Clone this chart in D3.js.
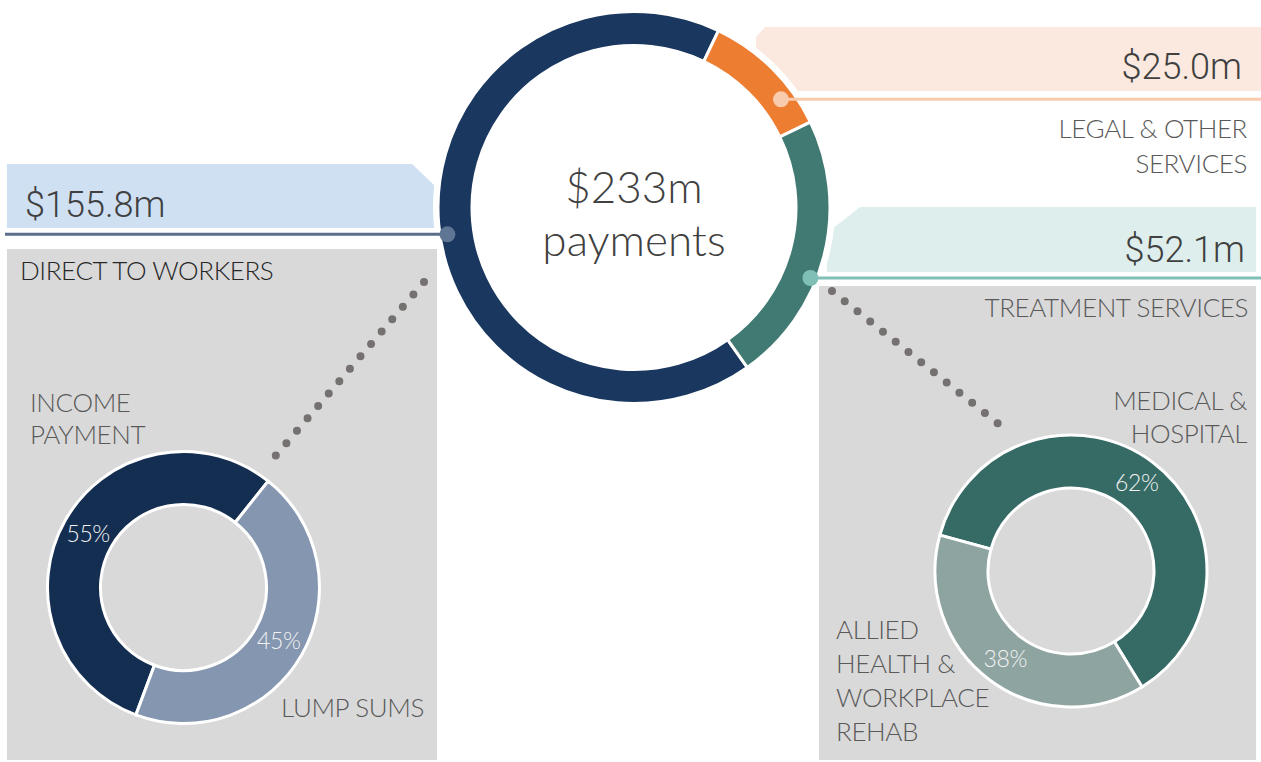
<!DOCTYPE html>
<html>
<head>
<meta charset="utf-8">
<script src="https://cdn.jsdelivr.net/npm/d3@7"></script>
<style>
  html, body { margin: 0; padding: 0; background: #fff; }
  svg { display: block; }
  .label { font-family: "Lato", "Open Sans", sans-serif; font-weight: 300; letter-spacing: -0.4px; }
  .value { font-family: "Roboto", sans-serif; font-weight: 300; }
</style>
</head>
<body>
<svg width="1261" height="762"></svg>
<script>
'use strict'

// ---- data ----
var mainCategories = ["DIRECT TO WORKERS", "LEGAL & OTHER SERVICES", "TREATMENT SERVICES"];
var mainValues = [155.8, 25.0, 52.1];
var mainValueLabels = ["$155.8m", "$25.0m", "$52.1m"];
var totalLabel = ["$233m", "payments"];

var workerCategories = ["INCOME PAYMENT", "LUMP SUMS"];
var workerShares = [55, 45];

var treatmentCategories = ["MEDICAL & HOSPITAL", "ALLIED HEALTH & WORKPLACE REHAB"];
var treatmentShares = [62, 38];

// ---- colours ----
var mainColours = ["#19375f", "#ed7d31", "#417a73"];
var boxColours = ["#cfe0f3", "#fbe9df", "#deeeed"];
var leaderColours = ["#5b6e8c", "#f8cbad", "#7fbfb6"];
var dotColours = ["#5f7594", "#f8cbad", "#7fbfb6"];
var workerColours = ["#142e52", "#8496b0"];
var treatmentColours = ["#366b65", "#8ea4a1"];

var deg = Math.PI / 180;
var svg = d3.select("svg");

var main = { cx: 634, cy: 207.5, r0: 162, r1: 196 };
var left = { cx: 183.5, cy: 587.5, r0: 83, r1: 136 };
var right = { cx: 1071, cy: 571, r0: 83, r1: 136 };

// grey panels
svg.append("rect").attr("x", 7).attr("y", 249).attr("width", 430).attr("height", 511).attr("fill", "#d9d9d9");
svg.append("rect").attr("x", 819).attr("y", 286).attr("width", 437).attr("height", 474).attr("fill", "#d9d9d9");

// value boxes with a clipped corner
var boxes = [
  [[7, 164], [412, 164], [434, 185], [434, 228], [7, 228]],
  [[765, 27], [1261, 27], [1261, 91], [756, 91], [756, 37]],
  [[860, 207], [1256, 207], [1256, 272], [827, 272], [827, 233]]
];
svg.selectAll("polygon.box")
  .data(boxes)
  .enter()
  .append("polygon")
  .attr("class", "box")
  .attr("points", function(d) { return d.join(" "); })
  .attr("fill", function(d, i) { return boxColours[i]; });

// dotted connectors to the small donuts
var connectors = [
  [[424, 282], [266, 467]],
  [[832, 291], [1010, 433]]
];
svg.selectAll("line.conn")
  .data(connectors)
  .enter()
  .append("line")
  .attr("class", "conn")
  .attr("x1", function(d) { return d[0][0]; })
  .attr("y1", function(d) { return d[0][1]; })
  .attr("x2", function(d) { return d[1][0]; })
  .attr("y2", function(d) { return d[1][1]; })
  .attr("stroke", "#767171")
  .attr("stroke-width", 8)
  .attr("stroke-linecap", "round")
  .attr("stroke-dasharray", "0 16.3");

// ---- main donut ----
var g = svg.append("g").attr("transform", "translate(" + main.cx + "," + main.cy + ")");
g.append("circle").attr("r", main.r1 + 5).attr("fill", "#fff");

var mainPie = d3.pie().sort(null)
  .startAngle(144.7 * deg)
  .endAngle(144.7 * deg + 2 * Math.PI);
var mainArc = d3.arc().innerRadius(main.r0).outerRadius(main.r1);

g.selectAll("path")
  .data(mainPie(mainValues))
  .enter()
  .append("path")
  .attr("d", mainArc)
  .attr("fill", function(d, i) { return mainColours[i]; })
  .attr("stroke", "#fff")
  .attr("stroke-width", 3);

g.append("text")
  .attr("class", "label")
  .attr("text-anchor", "middle")
  .attr("y", -5)
  .attr("font-size", 44)
  .style("letter-spacing", "0px")
  .attr("fill", "#404040")
  .text(totalLabel[0]);
g.append("text")
  .attr("class", "label")
  .attr("text-anchor", "middle")
  .attr("y", 48)
  .attr("font-size", 44)
  .style("letter-spacing", "0px")
  .attr("fill", "#404040")
  .text(totalLabel[1]);

// leader lines: y of each line, dot sits on the ring
var leaderY = [234.3, 99.3, 278];
var leaderSide = [-1, 1, 1];
var leaderEnd = [5, 1261, 1261];
var dotR = [188.5, 182.5, 190];
leaderY.forEach(function(y, i) {
  var dy = y - main.cy;
  var x = main.cx + leaderSide[i] * Math.sqrt(dotR[i] * dotR[i] - dy * dy);
  svg.append("line")
    .attr("x1", leaderEnd[i]).attr("x2", x)
    .attr("y1", y).attr("y2", y)
    .attr("stroke", leaderColours[i])
    .attr("stroke-width", 3);
  svg.append("circle")
    .attr("cx", x).attr("cy", y).attr("r", 8)
    .attr("fill", dotColours[i]);
});

// value labels
var valuePos = [[25, 217, "start"], [1242, 79, "end"], [1245, 262, "end"]];
mainValueLabels.forEach(function(t, i) {
  svg.append("text")
    .attr("class", "value")
    .attr("x", valuePos[i][0]).attr("y", valuePos[i][1])
    .attr("text-anchor", valuePos[i][2])
    .attr("font-size", 36)
    .attr("fill", "#404040")
    .text(t);
});

// category labels (multi-line)
function multiline(lines, x, y, lh, anchor, colour) {
  var t = svg.append("text")
    .attr("class", "label")
    .attr("font-size", 26)
    .attr("text-anchor", anchor)
    .attr("fill", colour);
  lines.forEach(function(l, i) {
    t.append("tspan").attr("x", x).attr("y", y + i * lh).text(l);
  });
}

multiline([mainCategories[0]], 20, 280, 0, "start", "#262626");
multiline(["LEGAL & OTHER", "SERVICES"], 1247, 138, 35, "end", "#595959");
multiline([mainCategories[2]], 1248, 317, 0, "end", "#595959");

multiline(["INCOME", "PAYMENT"], 30, 412, 32, "start", "#595959");
multiline([workerCategories[1]], 281, 717, 0, "start", "#595959");
multiline(["MEDICAL &", "HOSPITAL"], 1247, 410, 33, "end", "#595959");
multiline(["ALLIED", "HEALTH &", "WORKPLACE", "REHAB"], 836, 639, 34, "start", "#595959");

// ---- small donuts ----
function smallDonut(pos, shares, colours, start) {
  var sg = svg.append("g").attr("transform", "translate(" + pos.cx + "," + pos.cy + ")");
  var pie = d3.pie().sort(null)
    .startAngle(start * deg)
    .endAngle(start * deg + 2 * Math.PI);
  var arc = d3.arc().innerRadius(pos.r0).outerRadius(pos.r1);
  var arcs = pie(shares);
  sg.selectAll("path")
    .data(arcs)
    .enter()
    .append("path")
    .attr("d", arc)
    .attr("fill", function(d, i) { return colours[i]; })
    .attr("stroke", "#fff")
    .attr("stroke-width", 3);
  sg.selectAll("text")
    .data(arcs)
    .enter()
    .append("text")
    .attr("class", "label")
    .attr("transform", function(d) { return "translate(" + arc.centroid(d) + ")"; })
    .attr("text-anchor", "middle")
    .attr("dy", "0.35em")
    .attr("font-size", 23)
    .attr("fill", "#f2f2f2")
    .text(function(d) { return d.data + "%"; });
}

smallDonut(left, workerShares, workerColours, 200.5);
smallDonut(right, treatmentShares, treatmentColours, -74.7);
</script>
</body>
</html>
